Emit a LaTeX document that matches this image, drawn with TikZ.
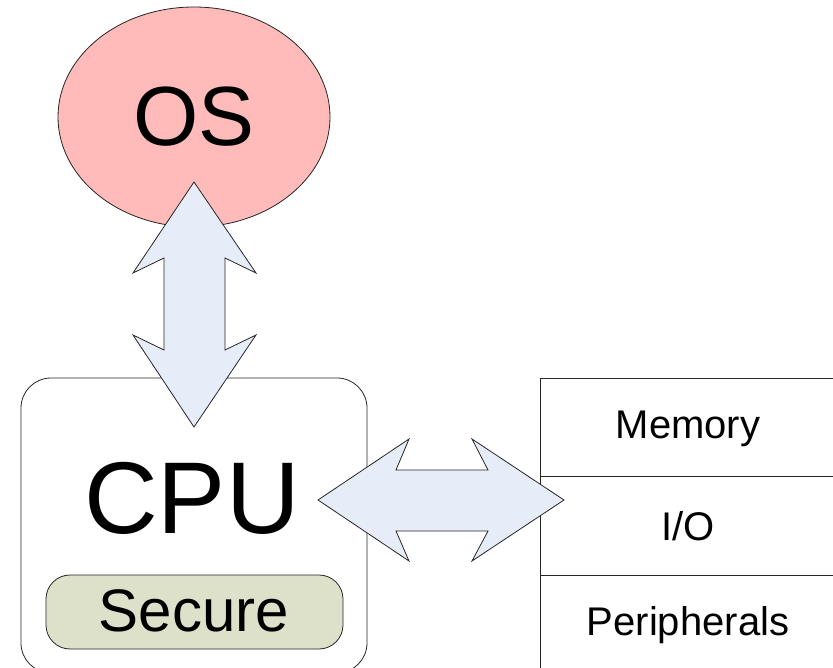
\documentclass[tikz,border=0pt]{standalone}
\usepackage{fontspec}
\setmainfont{Liberation Sans}
\definecolor{ospink}{RGB}{255,186,186}
\definecolor{arrowblue}{RGB}{230,237,248}
\definecolor{securegreen}{RGB}{221,225,201}
\begin{document}
\begin{tikzpicture}[x=1pt,y=-1pt,
  outline/.style={draw=black!85,line width=0.8pt},
  blockarrow/.style={outline,fill=arrowblue,line join=miter},
  lbl/.style={font=\fontsize{40}{42}\selectfont,inner sep=0pt}]
\useasboundingbox (0,0) rectangle (833,668);
% OS ellipse
\draw[outline,fill=ospink] (194,117) ellipse [x radius=136,y radius=110];
\node[inner sep=0pt,font=\fontsize{84}{90}\selectfont] (os) at (194,117) {OS};
% CPU box
\draw[outline,rounded corners=30pt] (21,378) rectangle (367,673);
\node[inner sep=0pt,font=\fontsize{102}{110}\selectfont] (cpu) at (192,498) {CPU};
\draw[outline,fill=securegreen,rounded corners=24pt] (46,575) rectangle (343,649);
\node[inner sep=0pt,font=\fontsize{60}{62}\selectfont] (secure) at (194,611) {Secure};
% Right boxes
\draw[outline] (850,378) -- (540,378) -- (540,690);
\draw[outline] (540,476.5) -- (850,476.5);
\draw[outline] (540,575) -- (850,575);
\node[lbl] (mem) at (688,429) {Memory};
\node[lbl] (io) at (688,526) {I/O};
\node[lbl] (per) at (688,625) {Peripherals};
% vertical double arrow
\coordinate (vtop) at (194,182);
\coordinate (vbot) at (194,427);
\draw[blockarrow] (vtop) -- (256,273) -- (225,258) -- (225,350) -- (256,335) -- (vbot)
  -- (133,335) -- (164,350) -- (164,258) -- (133,273) -- cycle;
% horizontal double arrow
\coordinate (hleft) at (318,500);
\coordinate (hright) at (564,500);
\draw[blockarrow] (hleft) -- (409,439) -- (396,470) -- (488,470) -- (472,439) -- (hright)
  -- (472,561) -- (488,531) -- (396,531) -- (409,561) -- cycle;
\end{tikzpicture}
\end{document}
